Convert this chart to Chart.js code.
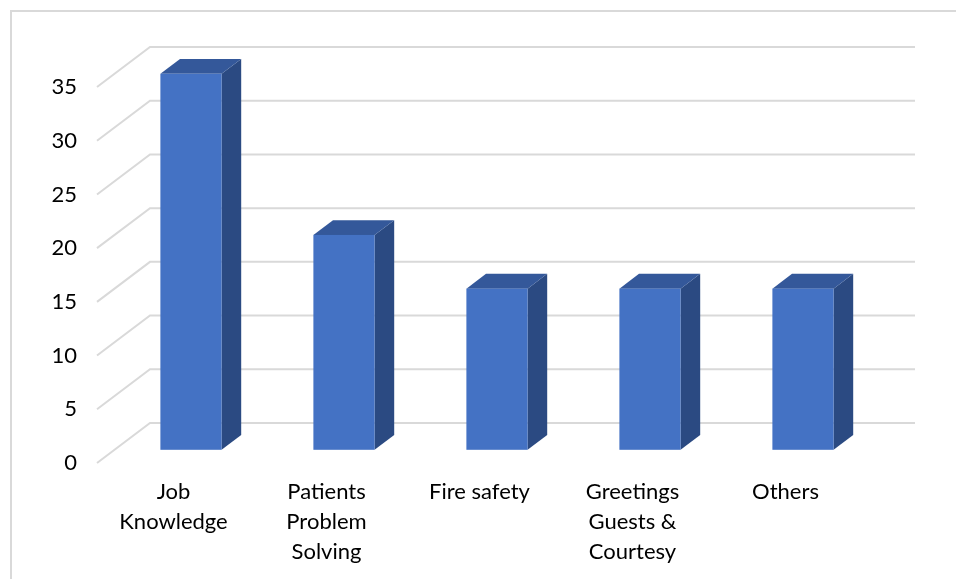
<!DOCTYPE html>
<html>
<head>
<meta charset="utf-8">
<script src="https://cdn.jsdelivr.net/npm/chart.js@4/dist/chart.umd.min.js"></script>
<style>
  html, body { margin: 0; padding: 0; background: #ffffff; }
  #wrap { width: 956px; height: 579px; position: relative; }
</style>
</head>
<body>
<div id="wrap"><canvas id="chart" width="956" height="579"></canvas></div>
<script>
// Training topics and the number of responses for each
const categories = [
  ['Job', 'Knowledge'],
  ['Patients', 'Problem', 'Solving'],
  ['Fire safety'],
  ['Greetings', 'Guests &', 'Courtesy'],
  ['Others']
];
const values = [35, 20, 15, 15, 15];
const yTicks = [0, 5, 10, 15, 20, 25, 30, 35];

// Depth of the 3D box (front plane -> back wall), in pixels
const DEPTH = { dx: 53, dy: -40 };
const BAR_FRONT = 0.33;   // bar front face, as a fraction of the depth
const BAR_BACK = 0.70;    // bar back face

const COLORS = {
  front: '#4472C4',
  top: '#34589A',
  side: '#2B4A82',
  grid: '#d9d9d9',
  frame: '#d9d9d9',
  text: '#000000'
};

const FONT = "Lato, 'Liberation Sans', sans-serif";

// Draws the outer frame, the back wall grid lines and their receding edges
const wallPlugin = {
  id: 'wall3d',
  beforeDatasetsDraw(chart) {
    const { ctx, chartArea, scales } = chart;
    const y = scales.y;
    ctx.save();
    // frame
    ctx.strokeStyle = COLORS.frame;
    ctx.lineWidth = 2;
    ctx.beginPath();
    ctx.moveTo(11, chart.height + 2);
    ctx.lineTo(11, 11);
    ctx.lineTo(chart.width + 2, 11);
    ctx.stroke();
    // grid lines
    ctx.strokeStyle = COLORS.grid;
    ctx.lineWidth = 2;
    yTicks.forEach(v => {
      const py = y.getPixelForValue(v);
      const bx = chartArea.left + DEPTH.dx;
      const by = py + DEPTH.dy;
      ctx.beginPath();
      ctx.moveTo(chartArea.left, py);
      ctx.lineTo(bx, by);
      ctx.lineTo(chartArea.right + DEPTH.dx, by);
      ctx.stroke();
    });
    ctx.restore();
  },
  afterDatasetsDraw(chart) {
    const { ctx } = chart;
    const meta = chart.getDatasetMeta(0);
    const fx = DEPTH.dx * BAR_FRONT, fy = DEPTH.dy * BAR_FRONT;
    const kx = DEPTH.dx * (BAR_BACK - BAR_FRONT), ky = DEPTH.dy * (BAR_BACK - BAR_FRONT);
    ctx.save();
    meta.data.forEach(bar => {
      const p = bar.getProps(['x', 'y', 'base', 'width'], true);
      const l = p.x - p.width / 2 + fx;
      const r = p.x + p.width / 2 + fx;
      const t = p.y + fy;
      const b = p.base + fy;
      // side face
      ctx.fillStyle = COLORS.side;
      ctx.beginPath();
      ctx.moveTo(r, t);
      ctx.lineTo(r + kx, t + ky);
      ctx.lineTo(r + kx, b + ky);
      ctx.lineTo(r, b);
      ctx.closePath();
      ctx.fill();
      // top face
      ctx.fillStyle = COLORS.top;
      ctx.beginPath();
      ctx.moveTo(l, t);
      ctx.lineTo(l + kx, t + ky);
      ctx.lineTo(r + kx, t + ky);
      ctx.lineTo(r, t);
      ctx.closePath();
      ctx.fill();
      // front face
      ctx.fillStyle = COLORS.front;
      ctx.fillRect(l, t, r - l, b - t);
    });
    ctx.restore();
  }
};

new Chart(document.getElementById('chart'), {
  type: 'bar',
  data: {
    labels: categories,
    datasets: [{
      data: values,
      backgroundColor: 'rgba(0,0,0,0)',
      borderWidth: 0,
      categoryPercentage: 1,
      barPercentage: 0.4
    }]
  },
  options: {
    responsive: false,
    animation: false,
    events: [],
    layout: { padding: { left: 0, top: 87, right: 94, bottom: 0 } },
    plugins: {
      legend: { display: false },
      tooltip: { enabled: false },
      title: { display: false }
    },
    scales: {
      x: {
        grid: { display: false, drawTicks: false },
        border: { display: false },
        ticks: {
          color: COLORS.text,
          padding: 14,
          maxRotation: 0,
          autoSkip: false,
          font: { family: FONT, size: 22, lineHeight: 1.36 }
        },
        afterFit(scale) { scale.height = 116; }
      },
      y: {
        min: 0,
        max: 35,
        grid: { display: false, drawTicks: false },
        border: { display: false },
        ticks: {
          stepSize: 5,
          color: COLORS.text,
          padding: 20,
          font: { family: FONT, size: 22 }
        },
        afterFit(scale) { scale.width = 97; }
      }
    }
  },
  plugins: [wallPlugin]
});
</script>
</body>
</html>
